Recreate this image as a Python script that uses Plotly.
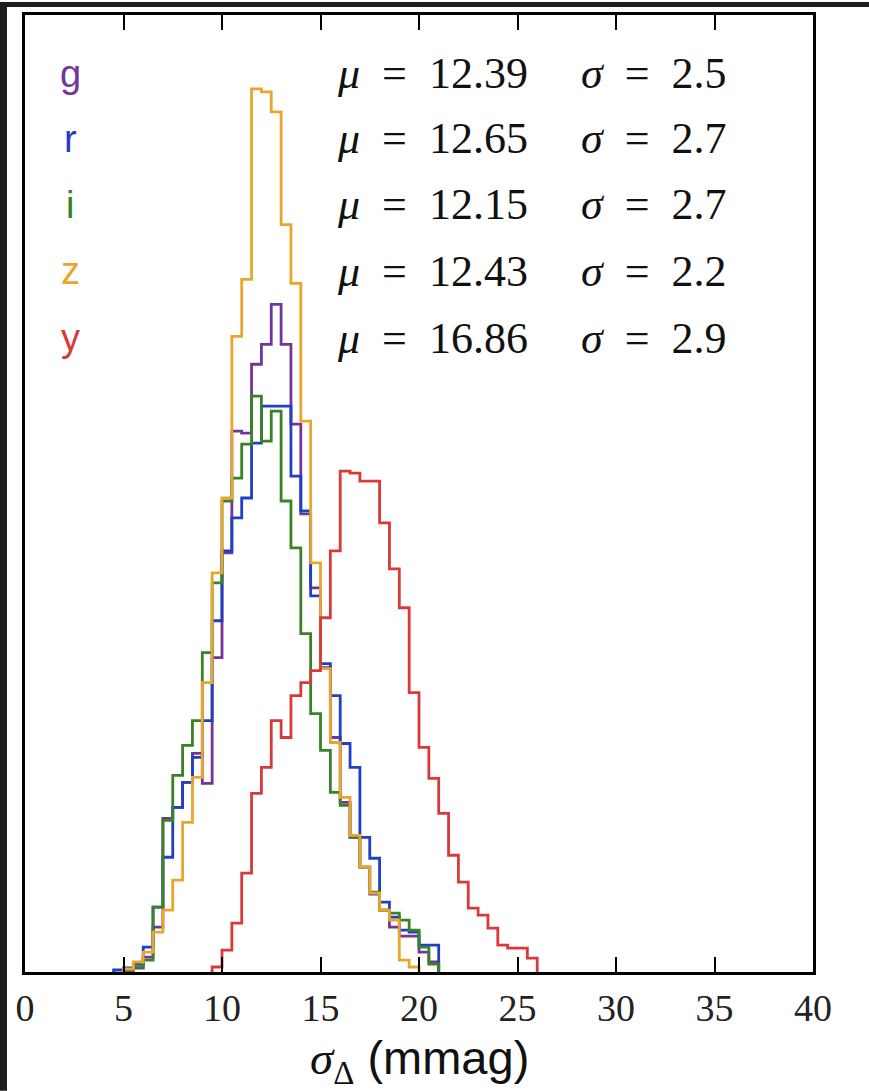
import plotly.graph_objects as go

# Histogram of sigma_Delta per band, 0.5 mmag bins (heights in counts)
bin_width = 0.5

bands = ["g", "r", "i", "z", "y"]
colors = {"g": "#74349a", "r": "#1f40c4", "i": "#3a8227", "z": "#eaa62c", "y": "#d83a3a"}
mu = ["12.39", "12.65", "12.15", "12.43", "16.86"]
sigma = ["2.5", "2.7", "2.7", "2.2", "2.9"]

g_start = 5.0
g_counts = [0, 4, 15, 45, 154, 165, 190, 219, 189, 315, 420, 542, 540, 609, 629,
            669, 629, 549, 459, 385, 305, 235, 170, 135, 105, 78, 62, 45, 36, 36, 20, 10]

r_start = 4.5
r_counts = [2, 4, 8, 25, 65, 115, 165, 190, 215, 252, 352, 422, 455, 475, 530, 567,
            567, 567, 497, 462, 377, 309, 277, 229, 205, 135, 114, 70, 55, 42, 40, 27, 27]

i_start = 5.0
i_counts = [2, 5, 12, 65, 152, 197, 227, 252, 320, 390, 472, 495, 529, 577, 532,
            562, 472, 425, 339, 259, 222, 180, 167, 135, 105, 80, 62, 59, 52, 42, 25, 8]

z_start = 5.0
z_counts = [3, 10, 20, 40, 62, 92, 150, 195, 290, 400, 475, 637, 694, 885, 882,
            862, 749, 690, 552, 410, 304, 230, 175, 137, 105, 79, 62, 52, 12, 5]

y_start = 9.5
y_counts = [5, 22, 49, 99, 179, 205, 252, 235, 277, 290, 302, 355, 422, 502, 500,
            492, 492, 450, 404, 365, 280, 225, 194, 159, 117, 90, 64, 57, 44, 27, 24, 24, 14]

series = {
    "g": (g_start, g_counts),
    "r": (r_start, r_counts),
    "i": (i_start, i_counts),
    "z": (z_start, z_counts),
    "y": (y_start, y_counts),
}

x_ticks = [0, 5, 10, 15, 20, 25, 30, 35, 40]
y_max = 959

SERIF = "Liberation Serif"
SANS = "Liberation Sans"
GAP = "\u2002"  # en space around the equals sign

fig = go.Figure()

# Step outlines: rise at the first edge, fall at the last edge
for band in bands:
    start, counts = series[band]
    edges = [start + k * bin_width for k in range(len(counts) + 1)]
    xs = [edges[0]] + edges[:-1] + [edges[-1]]
    ys = [0] + counts + [0]
    fig.add_trace(go.Scatter(
        x=xs, y=ys, mode="lines", line_shape="hv",
        line=dict(color=colors[band], width=2.8),
        showlegend=False, hoverinfo="skip",
    ))

# Band labels and fit statistics, one row per band
row_y = [900, 835, 769, 702, 635]
for band, m, s, yy in zip(bands, mu, sigma, row_y):
    fig.add_annotation(x=2.3, y=yy, xref="x", yref="y", text=band, showarrow=False,
                       xanchor="center", yanchor="middle",
                       font=dict(family=SANS, size=38, color=colors[band]))
    fig.add_annotation(x=15.75, y=yy, xref="x", yref="y",
                       text="<i>μ</i>" + GAP + "=" + GAP + m, showarrow=False,
                       xanchor="left", yanchor="middle",
                       font=dict(family=SERIF, size=44, color="#111"))
    fig.add_annotation(x=28.1, y=yy, xref="x", yref="y",
                       text="<i>σ</i>" + GAP + "=" + GAP + s, showarrow=False,
                       xanchor="left", yanchor="middle",
                       font=dict(family=SERIF, size=44, color="#111"))

# Axis title
fig.add_annotation(
    x=0.5, y=-0.093, xref="paper", yref="paper", showarrow=False,
    xanchor="center", yanchor="middle",
    text=("<span style='font-family:Liberation Serif'><i>σ</i></span>"
          "<sub><span style='font-family:Liberation Serif'>Δ</span></sub>"
          " (mmag)"),
    font=dict(family=SANS, size=47, color="#111"),
)

# Dark strips along the left and top edges of the page
L, R, T, B = 25, 56, 13, 119
W, H = 869, 1091
pw, ph = W - L - R, H - T - B
def px_x(px):
    return (px - L) / pw
def px_y(py):
    return (H - B - py) / ph
fig.add_shape(type="rect", xref="paper", yref="paper", layer="below",
              x0=px_x(0), x1=px_x(7), y0=px_y(H), y1=px_y(0),
              fillcolor="#1d1d1d", line_width=0)
fig.add_shape(type="rect", xref="paper", yref="paper", layer="below",
              x0=px_x(0), x1=px_x(W), y0=px_y(5), y1=px_y(0),
              fillcolor="#1d1d1d", line_width=0)

fig.update_layout(
    width=W, height=H,
    margin=dict(l=L, r=R, t=T, b=B, pad=0),
    paper_bgcolor="white", plot_bgcolor="white",
    showlegend=False,
)
fig.update_xaxes(
    range=[0, 40], tickvals=x_ticks, ticktext=[str(t) for t in x_ticks],
    ticks="inside", ticklen=15, tickwidth=2, tickcolor="black",
    showline=True, linewidth=3, linecolor="black", mirror="ticks",
    showgrid=False, zeroline=False,
    tickfont=dict(family=SERIF, size=38, color="#222"),
)
fig.update_yaxes(
    range=[0, y_max], showticklabels=False, ticks="",
    showline=True, linewidth=3, linecolor="black", mirror=True,
    showgrid=False, zeroline=False,
)

fig.write_html("out.html")
